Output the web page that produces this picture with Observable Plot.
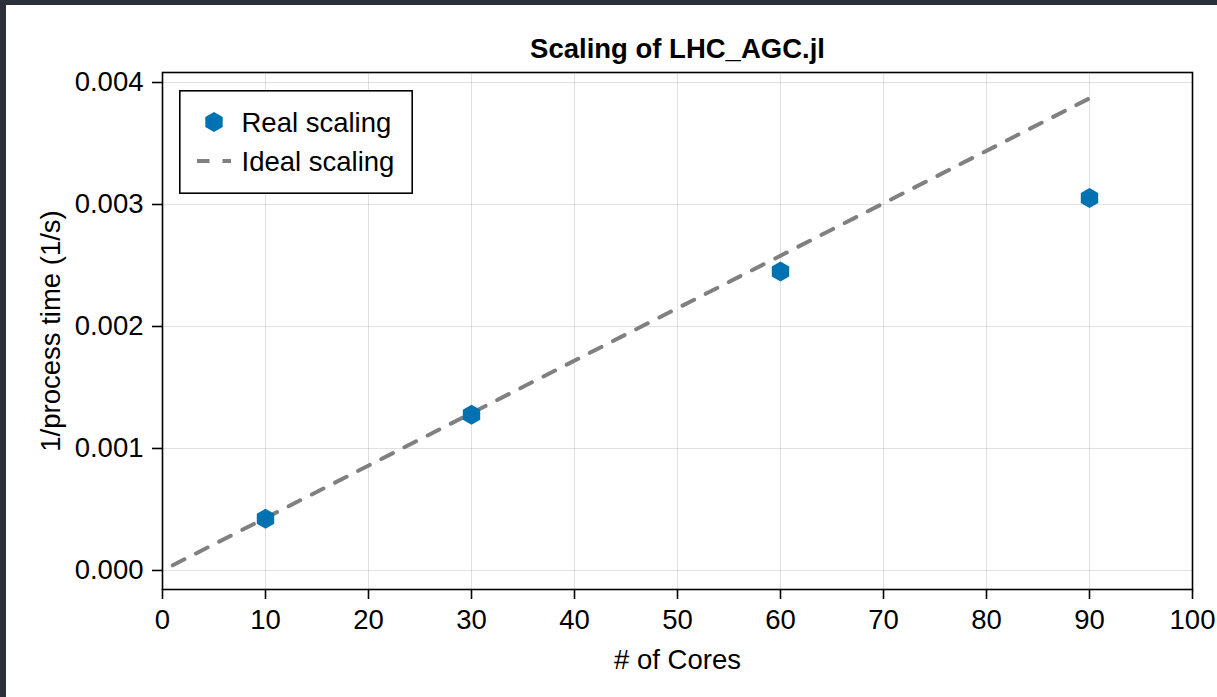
<!DOCTYPE html>
<html>
<head>
<meta charset="utf-8">
<script src="https://cdn.jsdelivr.net/npm/d3@7"></script>
<script src="https://cdn.jsdelivr.net/npm/@observablehq/plot@0.6"></script>
<style>
  html, body { margin: 0; padding: 0; background: #2b303b; }
  #wrap { position: absolute; left: 6px; top: 5px; width: 1211px; height: 692px; background: #fff; overflow: hidden; }
  #legend { position: absolute; left: 173px; top: 85px; }
  text { font-family: "Liberation Sans", Arial, Helvetica, sans-serif; }
</style>
</head>
<body>
<div id="wrap"><div id="chart"></div><svg id="legend" width="234" height="104"></svg></div>
<script>
// ---- data ----
const cores = [10, 30, 60, 90];
const invProcessTime = [0.000424, 0.001276, 0.002451, 0.003053];
const idealCores = [1, 90];
const idealInvTime = [0.000043, 0.00387];
const xTicks = [0, 10, 20, 30, 40, 50, 60, 70, 80, 90, 100];
const yTicks = [0, 0.001, 0.002, 0.003, 0.004];
const yTickLabels = ["0.000", "0.001", "0.002", "0.003", "0.004"];
const title = "Scaling of LHC_AGC.jl";
const xLabel = "# of Cores";
const yLabel = "1/process time (1/s)";
const seriesNames = ["Real scaling", "Ideal scaling"];

const real = cores.map((c, i) => ({c, v: invProcessTime[i]}));
const ideal = idealCores.map((c, i) => ({c, v: idealInvTime[i]}));

const FONT = '"Liberation Sans", Arial, Helvetica, sans-serif';
const FS = 27.5;
const BLUE = "#0072B2";
const GRAY = "#808080";

const chart = Plot.plot({
  width: 1211,
  height: 692,
  marginLeft: 156,
  marginRight: 25,
  marginTop: 67,
  marginBottom: 108,
  style: {fontFamily: FONT, fontSize: FS + "px", background: "#fff", color: "#000"},
  x: {domain: [0, 100]},
  y: {domain: [-0.000156, 0.004082]},
  marks: [
    Plot.gridX(xTicks, {stroke: "#000", strokeOpacity: 0.12, strokeWidth: 1}),
    Plot.gridY(yTicks, {stroke: "#000", strokeOpacity: 0.12, strokeWidth: 1}),
    Plot.line(ideal, {x: "c", y: "v", stroke: GRAY, strokeWidth: 4, strokeDasharray: "13 13"}),
    Plot.dot(real, {x: "c", y: "v", symbol: "hexagon", r: 8.7, fill: BLUE, stroke: "none"}),
    Plot.frame({stroke: "#000", strokeWidth: 1.6}),
    Plot.axisX(xTicks, {tickSize: 10, tickPadding: 10, fontSize: FS, label: null, strokeWidth: 1.6}),
    Plot.axisY(yTicks, {tickSize: 10, tickPadding: 9, fontSize: FS, label: null, strokeWidth: 1.6,
      tickFormat: (d) => yTickLabels[yTicks.indexOf(d)]}),
    Plot.text([title], {frameAnchor: "top", dy: -23, lineAnchor: "middle", textAnchor: "middle", fontWeight: "bold", fontSize: FS}),
    Plot.text([xLabel], {frameAnchor: "bottom", dy: 71, lineAnchor: "middle", textAnchor: "middle", fontSize: FS}),
    Plot.text([yLabel], {frameAnchor: "left", dx: -111, rotate: -90, lineAnchor: "middle", textAnchor: "middle", fontSize: FS})
  ]
});
document.getElementById("chart").appendChild(chart);

// ---- legend (overlay) ----
const lg = d3.select("#legend");
lg.append("rect").attr("x", 0.8).attr("y", 0.8).attr("width", 232.4).attr("height", 102.4)
  .attr("fill", "#fff").attr("stroke", "#000").attr("stroke-width", 1.6);
const rx = 8.7, ry = rx * 2 / Math.sqrt(3), hy = ry / 2;
lg.append("path")
  .attr("transform", "translate(35,32)")
  .attr("d", `M0,${ry}L${rx},${hy}L${rx},${-hy}L0,${-ry}L${-rx},${-hy}L${-rx},${hy}Z`)
  .attr("fill", BLUE);
lg.append("line").attr("x1", 18).attr("x2", 52).attr("y1", 71).attr("y2", 71)
  .attr("stroke", GRAY).attr("stroke-width", 4).attr("stroke-dasharray", "12.5 13");
lg.selectAll("text.lab").data(seriesNames).join("text")
  .attr("class", "lab")
  .attr("x", 62.5)
  .attr("y", (d, i) => i === 0 ? 32 : 71)
  .attr("dy", "0.35em")
  .attr("font-size", FS)
  .attr("fill", "#000")
  .text(d => d);
</script>
</body>
</html>
